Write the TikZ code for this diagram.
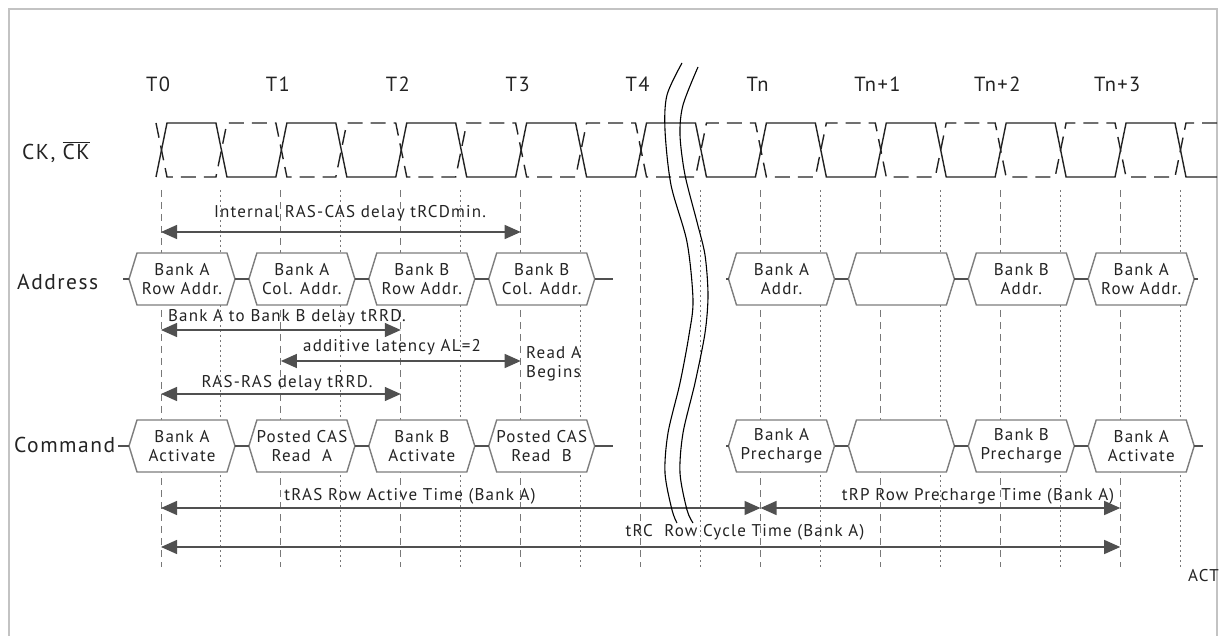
\documentclass[tikz,border=0pt]{standalone}
\usepackage{fontspec}
\setmainfont{PT Sans}[LetterSpace=7]
\usetikzlibrary{arrows.meta}
\definecolor{inkgray}{RGB}{35,35,35}
\definecolor{boxgray}{RGB}{125,125,125}
\definecolor{gridgray}{RGB}{120,120,120}
\definecolor{arrgray}{RGB}{80,80,80}
\definecolor{framegray}{RGB}{195,195,195}

\begin{document}
\begin{tikzpicture}[x=1pt, y=-1pt,
    every node/.style={font=\fontsize{17}{19}\selectfont, text=inkgray, inner sep=0pt},
    tlab/.style={font=\fontsize{20.5}{23}\selectfont},
    rowlab/.style={font=\fontsize{21.5}{23}\selectfont, anchor=west},
    boxtxt/.style={align=center, font=\fontsize{17}{18.5}\selectfont},
    ckline/.style={draw=inkgray, line width=1.4pt},
    ckbar/.style={ckline, dash pattern=on 15pt off 8pt},
    tgrid/.style={draw=gridgray, line width=1pt, dash pattern=on 7pt off 5pt},
    hgrid/.style={draw=gridgray, line width=1pt, dash pattern=on 2pt off 3pt},
    hexbox/.style={draw=boxgray, fill=white, line width=1.4pt},
    rowline/.style={draw=arrgray, line width=1.5pt},
    dimarr/.style={draw=arrgray, line width=1.4pt,
      {Triangle[length=16pt,width=14pt]}-{Triangle[length=16pt,width=14pt]}},
    breakln/.style={draw=black, line width=1.1pt}
  ]
  \useasboundingbox (0,0) rectangle (1219,636);
  \draw[framegray, line width=2pt] (9,640) -- (9,9) -- (1217,9) -- (1217,640);

  % clock columns
  \foreach \k/\lab in {0/T0,1/T1,2/T2,3/T3,4/T4,5/Tn,6/Tn+1,7/Tn+2,8/Tn+3} {
    \pgfmathsetmacro\xk{161+119.9*\k}
    \coordinate (c\k) at (\xk,0);
    \node[tlab] (t\k) at (\xk-3,84) {\lab};
    \draw[tgrid] (\xk,190) -- (\xk,567);
    \draw[hgrid] (\xk+59.95,190) -- (\xk+59.95,567);
  }

  % CK and CK bar
  \draw[ckline] (156,177) \foreach \j [evaluate=\j as \xe using 161.5+59.94*\j,
      evaluate=\j as \ya using 150+27*cos(180*\j),
      evaluate=\j as \yb using 150-27*cos(180*\j)] in {0,...,17} {
      -- (\xe-5.5,\ya) -- (\xe+5.5,\yb) } -- (1217,177);
  \draw[ckbar] (156,123) \foreach \j [evaluate=\j as \xe using 161.5+59.94*\j,
      evaluate=\j as \ya using 150+27*cos(180*\j),
      evaluate=\j as \yb using 150-27*cos(180*\j)] in {0,...,17} {
      -- (\xe-5.5,\yb) -- (\xe+5.5,\ya) } -- (1217,123);

  \node[rowlab] (cklab) at (22,152) {CK, $\overline{\mbox{CK}}$};
  \node[rowlab] (addrlab) at (17,282) {Address};
  \node[rowlab] (cmdlab) at (14,445) {Command};

  % address and command boxes
  \foreach \k/\nm/\txt in {0/a0/{Bank A\\Row Addr.}, 1/a1/{Bank A\\Col. Addr.},
      2/a2/{Bank B\\Row Addr.}, 3/a3/{Bank B\\Col. Addr.}, 5/a4/{Bank A\\Addr.},
      6/a5/{}, 7/a6/{Bank B\\Addr.}, 8/a7/{Bank A\\Row Addr.}} {
    \pgfmathsetmacro\xc{161+119.9*\k}
    \draw[hexbox] (\xc-32,279) -- (\xc-24,253) -- (\xc+66,253) -- (\xc+74,279)
      -- (\xc+66,305) -- (\xc-24,305) -- cycle;
    \coordinate (w\nm) at (\xc-32,279);
    \coordinate (e\nm) at (\xc+74,279);
    \node[boxtxt] (\nm) at (\xc+21,279) {\txt};
  }
  \foreach \k/\nm/\txt in {0/m0/{Bank A\\Activate}, 1/m1/{Posted CAS\\Read\ \ A},
      2/m2/{Bank B\\Activate}, 3/m3/{Posted CAS\\Read\ \ B}, 5/m4/{Bank A\\Precharge},
      6/m5/{}, 7/m6/{Bank B\\Precharge}, 8/m7/{Bank A\\Activate}} {
    \pgfmathsetmacro\xc{161+119.9*\k}
    \draw[hexbox] (\xc-32,446) -- (\xc-24,420) -- (\xc+66,420) -- (\xc+74,446)
      -- (\xc+66,472) -- (\xc-24,472) -- cycle;
    \coordinate (w\nm) at (\xc-32,446);
    \coordinate (e\nm) at (\xc+74,446);
    \node[boxtxt] (\nm) at (\xc+21,446) {\txt};
  }
  \coordinate (ain) at (123,279);
  \coordinate (aout) at (613,279);
  \coordinate (aback) at (726,279);
  \coordinate (aend) at (1198,279);
  \coordinate (min) at (118,446);
  \coordinate (mout) at (613,446);
  \coordinate (mback) at (726,446);
  \coordinate (mend) at (1203,446);
  \draw[rowline] (ain) -- (wa0) (ea0) -- (wa1) (ea1) -- (wa2) (ea2) -- (wa3) (ea3) -- (aout)
    (aback) -- (wa4) (ea4) -- (wa5) (ea5) -- (wa6) (ea6) -- (wa7) (ea7) -- (aend);
  \draw[rowline] (min) -- (wm0) (em0) -- (wm1) (em1) -- (wm2) (em2) -- (wm3) (em3) -- (mout)
    (mback) -- (wm4) (em4) -- (wm5) (em5) -- (wm6) (em6) -- (wm7) (em7) -- (mend);

  % timing arrows
  \draw[dimarr] (c0 |- 0,232) -- (c3 |- 0,232);
  \node (lrcd) at (350,213) {Internal RAS-CAS delay tRCDmin.};
  \draw[dimarr] (c0 |- 0,330) -- (c2 |- 0,330);
  \node (lrrd) at (287,317) {Bank A to Bank B delay tRRD.};
  \draw[dimarr] (c1 |- 0,361) -- (c3 |- 0,361);
  \node (lal) at (392,347) {additive latency AL=2};
  \node[anchor=west, align=left] (lread) at (526,364) {Read A\\Begins};
  \draw[dimarr] (c0 |- 0,394) -- (c2 |- 0,394);
  \node (lras) at (287,383) {RAS-RAS delay tRRD.};
  \draw[dimarr] (c0 |- 0,508) -- (c5 |- 0,508);
  \node (ltras) at (410,496) {tRAS Row Active Time (Bank A)};
  \draw[dimarr] (c5 |- 0,508) -- (c8 |- 0,508);
  \node (ltrp) at (978,496) {tRP Row Precharge Time (Bank A)};
  \draw[dimarr] (c0 |- 0,547) -- (c8 |- 0,547);
  \node (ltrc) at (745,532) {tRC\ \ Row Cycle Time (Bank A)};
  \node[anchor=west] (lact) at (1188,576) {ACT};

  % time break
  \draw[breakln] plot[smooth] coordinates {(682,63) (667,95) (665,130) (671,185) (687,242)
    (693,300) (689,335) (680,383) (668,433) (665,473) (672,510) (677,523)};
  \draw[breakln] plot[smooth] coordinates {(698,67) (683,105) (680,135) (685,175) (697,222)
    (705,255) (708,295) (705,333) (695,383) (683,433) (680,473) (687,510) (693,523)};
\end{tikzpicture}
\end{document}
